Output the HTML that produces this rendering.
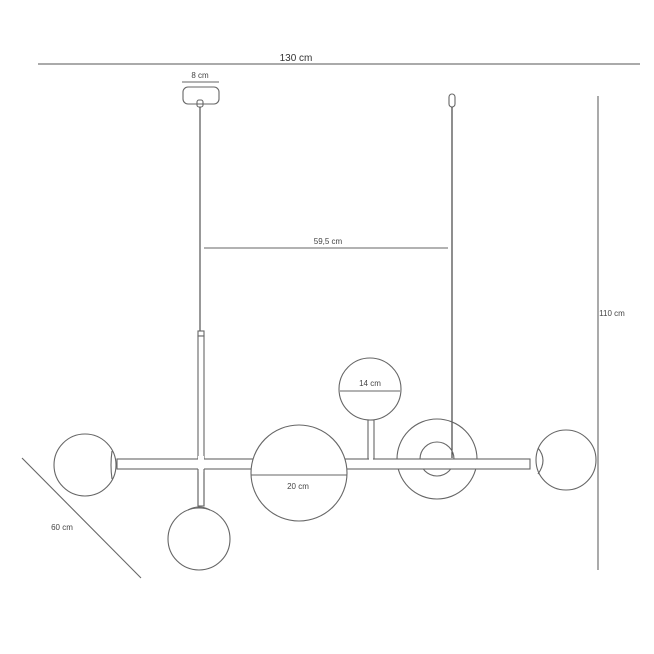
<!DOCTYPE html>
<html><head><style>html,body{margin:0;padding:0;background:#fff}svg{display:block}</style></head><body>
<svg width="654" height="654" viewBox="0 0 654 654" xmlns="http://www.w3.org/2000/svg" font-family="Liberation Sans, sans-serif" fill="none" stroke="#666" stroke-width="1.1">
<line x1="38" y1="64" x2="640" y2="64" stroke="#555"/>
<text x="296" y="61" font-size="10" fill="#333" stroke="none" text-anchor="middle">130 cm</text>
<line x1="182" y1="82" x2="219" y2="82"/>
<text x="200" y="78" font-size="8" fill="#444" stroke="none" text-anchor="middle">8 cm</text>
<rect x="183" y="87" width="36" height="17" rx="5"/>
<rect x="197" y="100" width="6" height="7" rx="2"/>
<line x1="200" y1="107" x2="200" y2="331" stroke="#444"/>
<rect x="198" y="331" width="6" height="5"/>
<rect x="198" y="336" width="6" height="170" fill="#fff"/>
<rect x="449" y="94" width="6" height="13" rx="3"/>
<line x1="452" y1="107" x2="452" y2="458" stroke="#333"/>
<line x1="204" y1="248" x2="448" y2="248"/>
<text x="328" y="244" font-size="8" fill="#444" stroke="none" text-anchor="middle">59,5 cm</text>
<line x1="598" y1="96" x2="598" y2="570"/>
<text x="612" y="316" font-size="8" fill="#444" stroke="none" text-anchor="middle">110 cm</text>
<line x1="22" y1="458" x2="141" y2="578"/>
<text x="62" y="530" font-size="8" fill="#444" stroke="none" text-anchor="middle">60 cm</text>
<circle cx="437" cy="459" r="40"/>
<circle cx="437" cy="459" r="17"/>
<rect x="117" y="459" width="413" height="10" fill="#fff"/>
<rect x="198" y="456" width="6" height="16" fill="#fff" stroke="none"/>
<line x1="198" y1="469" x2="198" y2="506"/><line x1="204" y1="469" x2="204" y2="506"/>
<rect x="368" y="420" width="6" height="39" fill="#fff"/>
<rect x="369" y="457" width="4" height="4" fill="#fff" stroke="none"/>
<circle cx="85" cy="465" r="31" fill="#fff"/>
<path d="M112 451 Q110 465 112 479"/>
<circle cx="199" cy="539" r="31" fill="#fff"/>
<path d="M188 510 Q199 504 210 510"/>
<circle cx="299" cy="473" r="48" fill="#fff"/>
<line x1="251" y1="475" x2="347" y2="475"/>
<text x="298" y="489" font-size="8" fill="#444" stroke="none" text-anchor="middle">20 cm</text>
<circle cx="370" cy="389" r="31" fill="#fff"/>
<line x1="340" y1="391" x2="400" y2="391"/>
<text x="370" y="386" font-size="8" fill="#444" stroke="none" text-anchor="middle">14 cm</text>
<circle cx="566" cy="460" r="30" fill="#fff"/>
<path d="M538 448 Q548 460 538 474"/>
</svg>
</body></html>
